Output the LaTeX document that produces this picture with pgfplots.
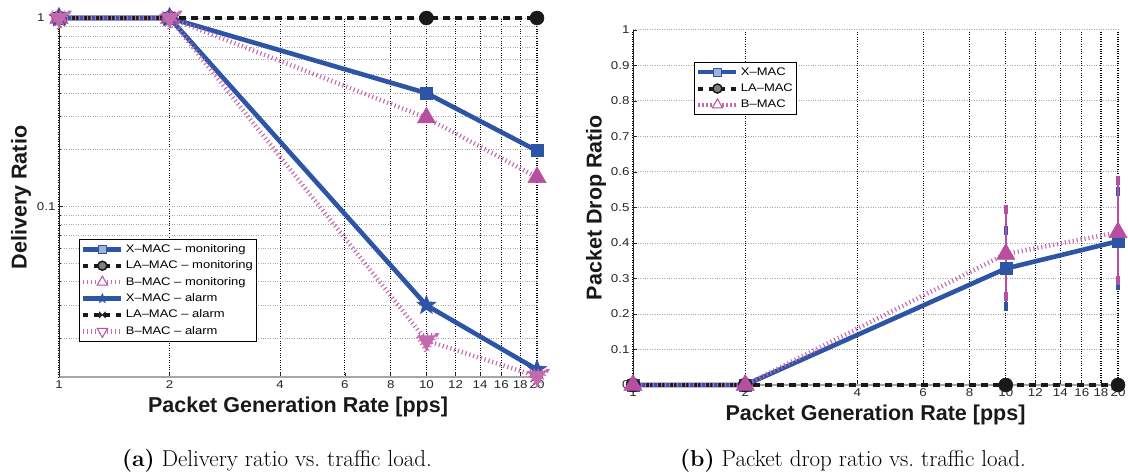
\documentclass[border=0pt]{standalone}
\usepackage{pgfplots}
\pgfplotsset{compat=1.18}
\usepackage{fontspec}
\newfontfamily\hv{Liberation Sans}
\newfontfamily\hvs[FakeStretch=1.18]{Liberation Sans}
\definecolor{xblue}{RGB}{46,84,165}
\definecolor{bmag}{RGB}{184,78,160}
\definecolor{lablack}{RGB}{25,25,25}

\pgfdeclareplotmark{fstar}{%
 \pgfpathmoveto{\pgfpointpolar{90}{\pgfplotmarksize}}%
 \pgfpathlineto{\pgfpointpolar{126}{0.42\pgfplotmarksize}}%
 \pgfpathlineto{\pgfpointpolar{162}{\pgfplotmarksize}}%
 \pgfpathlineto{\pgfpointpolar{198}{0.42\pgfplotmarksize}}%
 \pgfpathlineto{\pgfpointpolar{234}{\pgfplotmarksize}}%
 \pgfpathlineto{\pgfpointpolar{270}{0.42\pgfplotmarksize}}%
 \pgfpathlineto{\pgfpointpolar{306}{\pgfplotmarksize}}%
 \pgfpathlineto{\pgfpointpolar{342}{0.42\pgfplotmarksize}}%
 \pgfpathlineto{\pgfpointpolar{18}{\pgfplotmarksize}}%
 \pgfpathlineto{\pgfpointpolar{54}{0.42\pgfplotmarksize}}%
 \pgfpathclose\pgfusepathqfillstroke}
\pgfdeclareplotmark{bowtie}{%
 \pgfpathmoveto{\pgfqpoint{-\pgfplotmarksize}{\pgfplotmarksize}}%
 \pgfpathlineto{\pgfqpoint{\pgfplotmarksize}{-\pgfplotmarksize}}%
 \pgfpathlineto{\pgfqpoint{\pgfplotmarksize}{\pgfplotmarksize}}%
 \pgfpathlineto{\pgfqpoint{-\pgfplotmarksize}{-\pgfplotmarksize}}%
 \pgfpathclose\pgfusepathqfillstroke}

\pgfplotsset{
  every axis/.append style={
    scale only axis, clip=false,
    axis lines*=left,
    axis line style={-},
    x axis line style={draw=gray!70, line width=1.6pt},
    y axis line style={draw=black!85, line width=1pt},
    tick align=inside,
    major tick length=4pt, minor tick length=2.5pt,
    tick style={black!85, line width=0.8pt},
    xmajorgrids, ymajorgrids,
    x grid style={black, dotted, line width=1.1pt},
    y grid style={gray!70, dotted, line width=1pt},
    tick label style={font=\hvs\fontsize{11.3}{12}\selectfont, text=black!85},
    label style={font=\hv\bfseries\fontsize{21.5}{24}\selectfont, text=black!90},
    legend style={draw=black, line width=1pt, fill=white,
      font=\hvs\fontsize{11}{12}\selectfont, inner sep=1.5pt, row sep=0pt,
      nodes={inner sep=2.2pt, text height=9pt, text depth=3pt, anchor=west},
      anchor=north west},
    legend cell align=left,
    legend image code/.code={\draw[mark repeat=2,mark phase=2] plot coordinates {(0pt,0pt)(19pt,0pt)(38pt,0pt)};},
  },
  xmac/.style={xblue, line width=4.6pt, mark options={solid, fill=xblue, draw=xblue, line width=0.5pt}},
  lamac/.style={lablack, line width=4pt, dash pattern=on 7pt off 5pt, mark options={solid, fill=lablack, draw=lablack, line width=0.5pt}},
  bmac/.style={bmag!85, line width=4.5pt, dash pattern=on 1.1pt off 2.9pt, mark options={solid, fill=bmag, draw=bmag, line width=0.5pt}},
}

\begin{document}
\begin{tikzpicture}
\useasboundingbox (0pt,0pt) rectangle (1128pt,472pt);

% ---------------- (a) ----------------
\begin{axis}[
  xmode=log, ymode=log,
  /pgf/number format/assume math mode=true,
  at={(59pt,95pt)}, anchor=south west,
  width=478pt, height=359pt,
  xmin=1, xmax=20, ymin=0.0125, ymax=1,
  xtick={1,2,4,6,8,10,12,14,16,18,20},
  xticklabels={1,2,4,6,8,10,12,14,16,18,20},
  minor xtick={},
  ytick={0.1,1}, yticklabels={0.1,1\hspace*{11pt}},
  minor ytick={0.02,0.03,0.04,0.05,0.06,0.07,0.08,0.09,0.2,0.3,0.4,0.5,0.6,0.7,0.8,0.9},
  yminorgrids,
  xlabel={Packet Generation Rate [pps]},
  ylabel={Delivery Ratio},
  xlabel style={at={(axis description cs:0.5,-0.1)}, anchor=base},
  ylabel style={at={(axis description cs:-0.0795,0.5)}, anchor=center},
  legend style={at={(0.042,0.384)}},
]
\addplot[xmac, mark=square*, mark size=6pt, forget plot] coordinates {(1,1)(2,1)(10,0.40)(20,0.198)};
\addplot[lamac, mark=*, mark size=7pt, forget plot] coordinates {(1,1)(2,1)(10,1)(20,1)};
\addplot[bmac, mark=triangle*, mark size=10.5pt, forget plot] coordinates {(1,1)(2,1)(10,0.296)(20,0.143)};
\addplot[xmac, mark=fstar, mark size=10pt, forget plot] coordinates {(1,1)(2,1)(10,0.030)(20,0.0137)};
\addplot[lamac, mark=bowtie, mark size=3pt, forget plot] coordinates {(1,1)(2,1)(10,1)(20,1)};
\addplot[bmac, mark=triangle*, mark size=10.5pt, mark options={rotate=180}, forget plot] coordinates {(1,1)(2,1)(10,0.0195)(20,0.0126)};

\addlegendimage{xblue, line width=4.6pt, mark=square*, mark size=4pt, mark options={solid, fill=xblue!45, draw=xblue, line width=1pt}}
\addlegendentry{X–MAC – monitoring}
\addlegendimage{lablack, line width=4pt, dash pattern=on 5pt off 6pt, mark=*, mark size=4.5pt, mark options={solid, fill=gray, draw=lablack, line width=1.5pt}}
\addlegendentry{LA–MAC – monitoring}
\addlegendimage{bmag!85, line width=4.5pt, dash pattern=on 1.1pt off 2.9pt, mark=triangle*, mark size=6pt, mark options={solid, fill=white, draw=bmag, line width=1pt}}
\addlegendentry{B–MAC – monitoring}
\addlegendimage{xblue, line width=4.6pt, mark=fstar, mark size=5pt, mark options={solid, fill=xblue, draw=xblue, line width=0.5pt}}
\addlegendentry{X–MAC – alarm}
\addlegendimage{lablack, line width=4pt, dash pattern=on 5pt off 6pt, mark=bowtie, mark size=3pt, mark options={solid, fill=lablack, draw=lablack, line width=0.5pt}}
\addlegendentry{LA–MAC – alarm}
\addlegendimage{bmag!85, line width=4.5pt, dash pattern=on 1.1pt off 2.9pt, mark=triangle*, mark size=6pt, mark options={solid, rotate=180, fill=white, draw=bmag, line width=1pt}}
\addlegendentry{B–MAC – alarm}
\end{axis}

% ---------------- (b) ----------------
\begin{axis}[
  xmode=log,
  /pgf/number format/assume math mode=true,
  at={(633pt,87pt)}, anchor=south west,
  width=485pt, height=355pt,
  xmin=1, xmax=20, ymin=0, ymax=1,
  xtick={1,2,4,6,8,10,12,14,16,18,20},
  xticklabels={1,2,4,6,8,10,12,14,16,18,20},
  minor xtick={},
  ytick={0,0.1,0.2,0.3,0.4,0.5,0.6,0.7,0.8,0.9,1},
  yticklabels={0,0.1,0.2,0.3,0.4,0.5,0.6,0.7,0.8,0.9,1},
  xlabel={Packet Generation Rate [pps]},
  ylabel={Packet Drop Ratio},
  xlabel style={at={(axis description cs:0.5,-0.101)}, anchor=base},
  ylabel style={at={(axis description cs:-0.0763,0.5)}, anchor=center},
  legend style={at={(0.126,0.91)}},
]
\addplot[xmac, mark=square*, mark size=6pt, forget plot,
  error bars/.cd, y dir=both, y explicit, error mark=-,
  error bar style={solid, line width=2.5pt, xblue},
  error mark options={solid, line width=3.5pt, mark size=4.5pt, xblue}]
  table[x=x, y=y, y error plus=ep, y error minus=em] {
x y ep em
1 0 0 0
2 0 0 0
10 0.328 0.107 0.108
20 0.405 0.141 0.126
};
\addplot[lamac, mark=*, mark size=7pt, forget plot] coordinates {(1,0)(2,0)(10,0)(20,0)};
\addplot[bmac, mark=triangle*, mark size=10.5pt, forget plot,
  error bars/.cd, y dir=both, y explicit, error mark=-,
  error bar style={solid, line width=2.5pt, bmag},
  error mark options={solid, line width=3.5pt, mark size=4.5pt, bmag}]
  table[x=x, y=y, y error plus=ep, y error minus=em] {
x y ep em
1 0 0 0
2 0 0 0
10 0.369 0.124 0.120
20 0.430 0.147 0.137
};

\addlegendimage{xblue, line width=4.6pt, mark=square*, mark size=4pt, mark options={solid, fill=xblue!45, draw=xblue, line width=1pt}}
\addlegendentry{X–MAC}
\addlegendimage{lablack, line width=4pt, dash pattern=on 5pt off 6pt, mark=*, mark size=4.5pt, mark options={solid, fill=gray, draw=lablack, line width=1.5pt}}
\addlegendentry{LA–MAC}
\addlegendimage{bmag!85, line width=4.5pt, dash pattern=on 1.1pt off 2.9pt, mark=triangle*, mark size=6pt, mark options={solid, fill=white, draw=bmag, line width=1pt}}
\addlegendentry{B–MAC}
\end{axis}

\node[font=\fontsize{23}{26}\selectfont, anchor=base] at (277pt,6pt) {\textbf{(a)} Delivery ratio vs.\ traffic load.};
\node[font=\fontsize{23}{26}\selectfont, anchor=base] at (853pt,6pt) {\textbf{(b)} Packet drop ratio vs.\ traffic load.};
\end{tikzpicture}
\end{document}
